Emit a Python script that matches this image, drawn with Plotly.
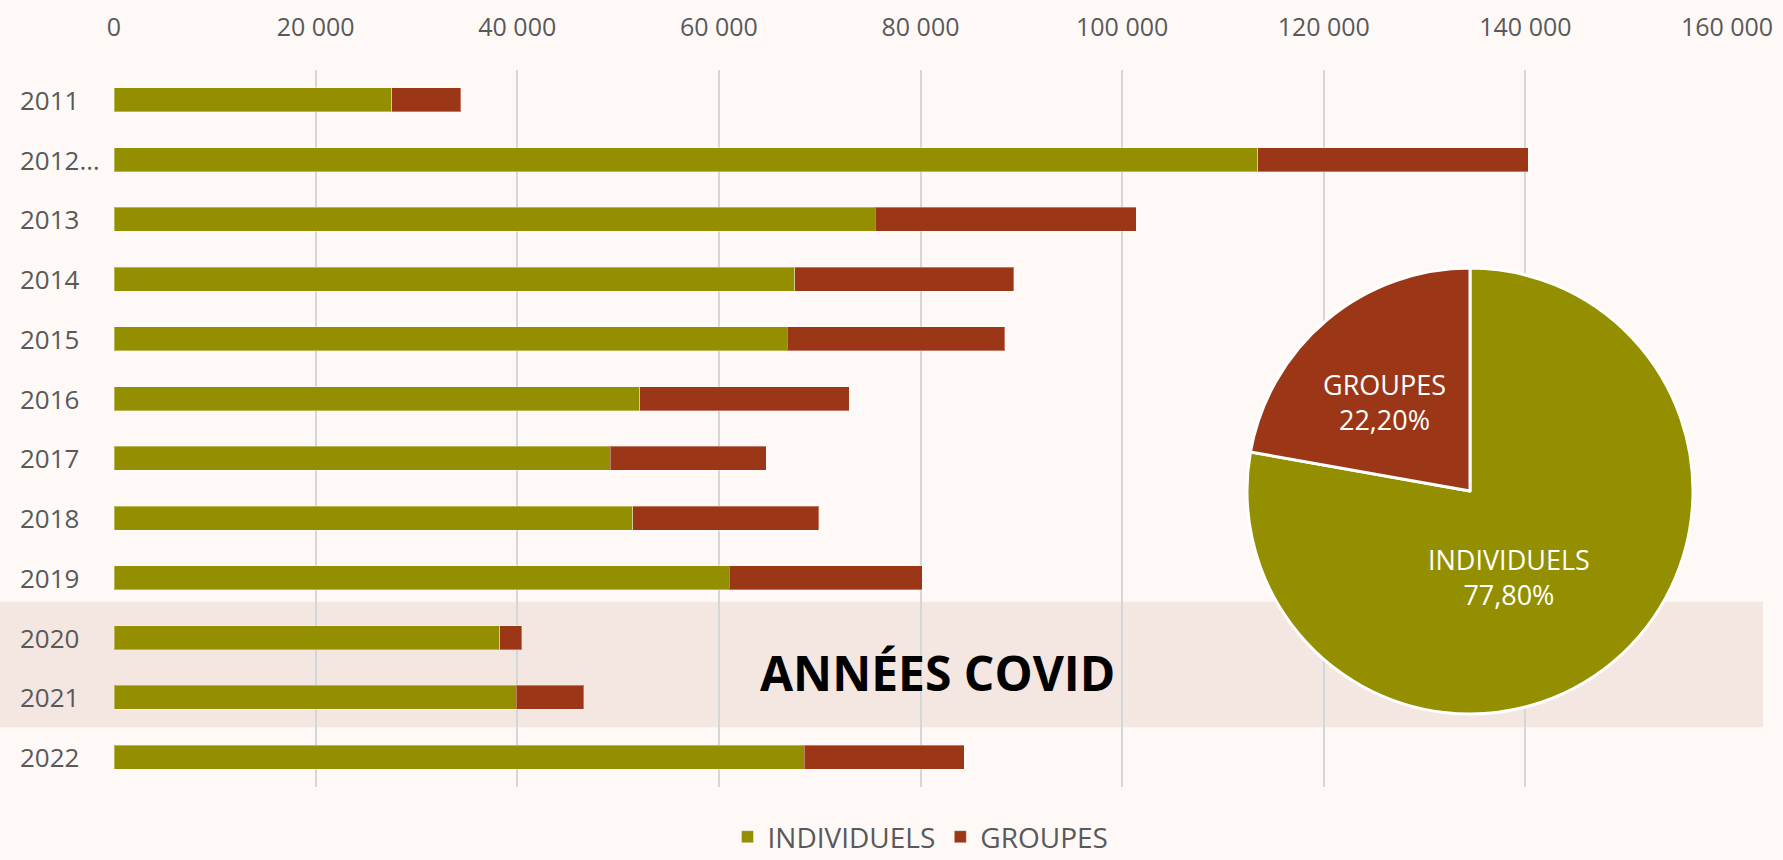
import plotly.graph_objects as go

# ---- data ----
years = ["2011", "2012…", "2013", "2014", "2015", "2016", "2017", "2018", "2019", "2020", "2021", "2022"]
individuels = [27550, 113450, 75500, 67550, 66800, 52150, 49200, 51450, 61050, 38250, 39900, 68450]
totals = [34400, 140300, 101400, 89250, 88350, 72950, 64700, 69900, 80150, 40450, 46580, 84350]
groupes = [t - i for t, i in zip(totals, individuels)]

pie_labels = ["INDIVIDUELS", "GROUPES"]
pie_values = [77.8, 22.2]

x_ticks = [0, 20000, 40000, 60000, 80000, 100000, 120000, 140000, 160000]
x_tick_text = ["0", "20 000", "40 000", "60 000", "80 000", "100 000", "120 000", "140 000", "160 000"]

covid_label = "ANNÉES COVID"

# ---- styles ----
OLIVE = "#938F00"
RUST = "#9B3717"
BG = "#FEF9F7"
BAND = "#F4E6E1"
GREY = "#595959"
FONT = "Open Sans"

W, H = 1783, 860
ML, MR, MT, MB = 114, 56, 70, 73
PW = W - ML - MR
PH = H - MT - MB


def px_x(p):
    return (p - ML) / PW


def px_y(p):
    return (H - MB - p) / PH


fig = go.Figure()

fig.add_trace(go.Bar(
    y=years, x=individuels, name="INDIVIDUELS", orientation="h",
    marker=dict(color=OLIVE, line=dict(color="rgba(255,255,255,0.35)", width=1)),
    hoverinfo="x+name",
))
fig.add_trace(go.Bar(
    y=years, x=groupes, name="GROUPES", orientation="h",
    marker=dict(color=RUST, line=dict(color="rgba(255,255,255,0.35)", width=1)),
    hoverinfo="x+name",
))

fig.add_trace(go.Pie(
    labels=pie_labels, values=pie_values, sort=False, direction="clockwise", rotation=0,
    marker=dict(colors=[OLIVE, RUST], line=dict(color="white", width=3)),
    textinfo="none", showlegend=False,
    domain=dict(x=[px_x(1470 - 223), px_x(1470 + 223)], y=[px_y(491 + 223), px_y(491 - 223)]),
))

annotations = []
# category labels, left aligned
for i, y in enumerate(years):
    annotations.append(dict(
        x=px_x(18), xref="paper", y=i, yref="y", text=y, showarrow=False,
        xanchor="left", yanchor="middle", font=dict(family=FONT, size=26, color=GREY),
    ))

# pie labels
pie_label_pos = {"GROUPES": (1384, 402), "INDIVIDUELS": (1509, 577)}
for lab, val in zip(pie_labels, pie_values):
    cx, cy = pie_label_pos[lab]
    annotations.append(dict(
        x=px_x(cx), y=px_y(cy), xref="paper", yref="paper",
        text=f"{lab}<br>{val:.2f}".replace(".", ",") + "%", showarrow=False,
        xanchor="center", yanchor="middle",
        font=dict(family=FONT, size=27, color="white"),
    ))

annotations.append(dict(
    x=px_x(937), y=px_y(672), xref="paper", yref="paper", text=f"<b>{covid_label}</b>",
    showarrow=False, xanchor="center", yanchor="middle",
    font=dict(family=FONT, size=48, color="black"),
))

shapes = [dict(
    type="rect", xref="paper", yref="y", x0=px_x(0), x1=px_x(1763), y0=8.4, y1=10.5,
    fillcolor=BAND, line=dict(width=0), layer="below",
)]

fig.update_layout(
    width=W, height=H,
    margin=dict(l=ML, r=MR, t=MT, b=MB, autoexpand=False),
    paper_bgcolor=BG, plot_bgcolor=BG,
    barmode="stack", bargap=0.6,
    font=dict(family=FONT, color=GREY),
    separators=", ",
    xaxis=dict(
        side="top", range=[0, 160000], tickvals=x_ticks, ticktext=x_tick_text,
        showgrid=True, gridcolor="#D6D6D6", gridwidth=1.5, zeroline=False,
        tickfont=dict(family=FONT, size=25, color=GREY), ticks="", ticklabelstandoff=28,
        showline=False, fixedrange=True, automargin=False,
    ),
    yaxis=dict(
        type="category", categoryorder="array", categoryarray=years, range=[11.5, -0.5],
        showticklabels=False, showgrid=False, zeroline=False, ticks="", fixedrange=True,
        automargin=False,
    ),
    legend=dict(
        orientation="h", x=0.5, xanchor="center", y=px_y(837), yanchor="middle",
        traceorder="normal", font=dict(family=FONT, size=28, color=GREY),
        bgcolor="rgba(0,0,0,0)",
    ),
    annotations=annotations, shapes=shapes,
)

fig.write_html(
    "out.html",
    config={"displayModeBar": False},
    post_script="document.body.style.margin='0';document.body.style.overflow='hidden';",
)
